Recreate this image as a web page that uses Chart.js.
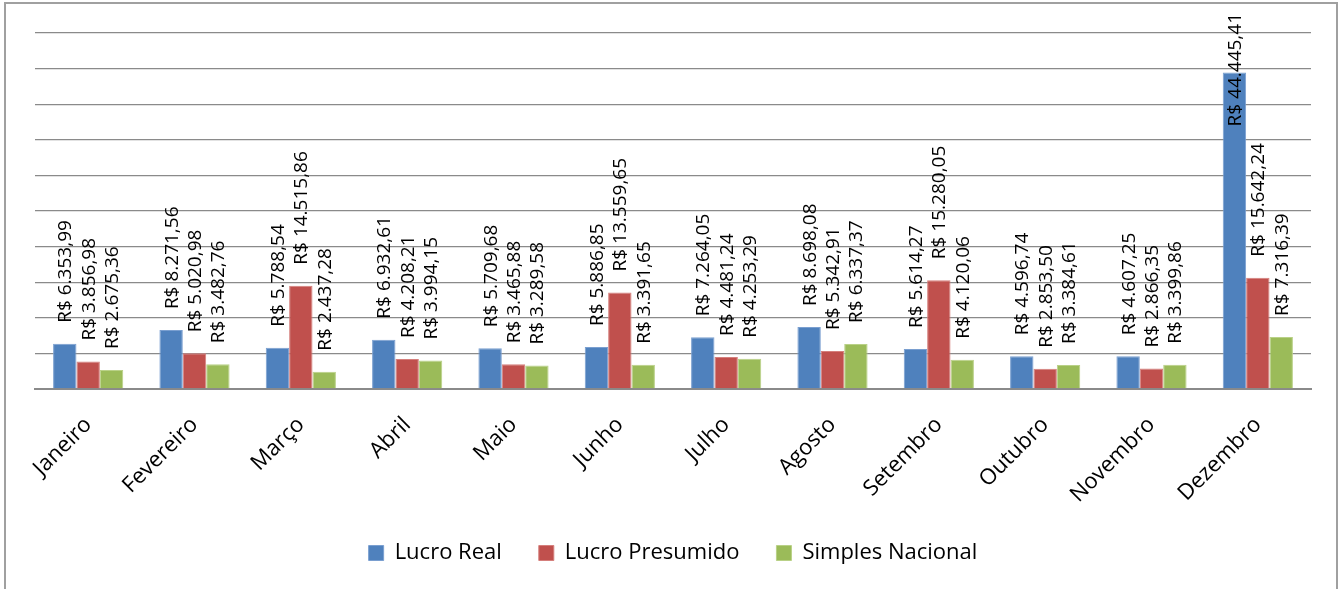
<!DOCTYPE html>
<html>
<head>
<meta charset="utf-8">
<script src="https://cdn.jsdelivr.net/npm/chart.js@4.4.1/dist/chart.umd.min.js"></script>
<style>
  html, body { margin: 0; padding: 0; background: #ffffff; }
  #frame { position: absolute; left: 4px; top: 2px; width: 1334px; height: 640px; border: 2px solid #A0A0A0; box-sizing: border-box; }
  #c { position: absolute; left: 0; top: 0; }
</style>
</head>
<body>
<div id="frame"></div>
<canvas id="c" width="1344" height="589"></canvas>
<script>
const months = ['Janeiro','Fevereiro','Março','Abril','Maio','Junho','Julho','Agosto','Setembro','Outubro','Novembro','Dezembro'];
const seriesNames = ['Lucro Real','Lucro Presumido','Simples Nacional'];
const lucroReal = [6353.99, 8271.56, 5788.54, 6932.61, 5709.68, 5886.85, 7264.05, 8698.08, 5614.27, 4596.74, 4607.25, 44445.41];
const lucroPresumido = [3856.98, 5020.98, 14515.86, 4208.21, 3465.88, 13559.65, 4481.24, 5342.91, 15280.05, 2853.50, 2866.35, 15642.24];
const simplesNacional = [2675.36, 3482.76, 2437.28, 3994.15, 3289.58, 3391.65, 4253.29, 6337.37, 4120.06, 3384.61, 3399.86, 7316.39];
const yMin = 0, yMax = 50000, yStep = 5000;

const FONT = "'Open Sans', 'Noto Sans', sans-serif";
const PLOT_BOTTOM = 389;
const PAD_BOTTOM = 15;

function brl(v) {
  const parts = v.toFixed(2).split('.');
  const intPart = parts[0].replace(/\B(?=(\d{3})+(?!\d))/g, '.');
  return 'R$ ' + intPart + ',' + parts[1];
}

const valueLabels = {
  id: 'valueLabels',
  afterDatasetsDraw(chart) {
    const ctx = chart.ctx;
    ctx.save();
    ctx.font = "19px " + FONT;
    ctx.fillStyle = '#000000';
    ctx.textAlign = 'left';
    ctx.textBaseline = 'middle';
    chart.data.datasets.forEach((ds, di) => {
      const meta = chart.getDatasetMeta(di);
      meta.data.forEach((bar, i) => {
        const txt = brl(ds.data[i]);
        const w = ctx.measureText(txt).width;
        let start = bar.y - 21;
        if (start - w < 13) start = 13 + w;
        ctx.save();
        ctx.translate(bar.x + 1, start);
        ctx.rotate(-Math.PI / 2);
        ctx.fillText(txt, 0, 0);
        ctx.restore();
      });
    });
    ctx.restore();
  }
};

new Chart(document.getElementById('c'), {
  type: 'bar',
  data: {
    labels: months,
    datasets: [
      { label: seriesNames[0], data: lucroReal, backgroundColor: '#4F81BD', borderColor: '#7A9FD0', borderWidth: 1 },
      { label: seriesNames[1], data: lucroPresumido, backgroundColor: '#C0504D', borderColor: '#D57F7C', borderWidth: 1 },
      { label: seriesNames[2], data: simplesNacional, backgroundColor: '#9BBB59', borderColor: '#B9D187', borderWidth: 1 }
    ]
  },
  options: {
    responsive: false,
    animation: false,
    layout: { padding: { left: 35, right: 33, top: 33, bottom: PAD_BOTTOM } },
    datasets: { bar: { categoryPercentage: 0.66, barPercentage: 1.0 } },
    scales: {
      y: {
        min: yMin, max: yMax,
        ticks: { display: false, stepSize: yStep },
        grid: { color: '#8A8A8A', lineWidth: 1.3, drawTicks: false },
        border: { display: false },
        afterFit(s) { s.width = 0; }
      },
      x: {
        grid: { display: false, drawTicks: false },
        border: { display: true, color: '#8A8A8A', width: 2 },
        ticks: {
          color: '#000000',
          font: { family: FONT, size: 22 },
          maxRotation: 45, minRotation: 45,
          padding: 23,
          autoSkip: false
        },
        afterFit(s) {
          const lh = (s.chart.legend && s.chart.legend.height) ? s.chart.legend.height : 60;
          s.height = 589 - PLOT_BOTTOM - lh - PAD_BOTTOM;
        }
      }
    },
    plugins: {
      legend: {
        position: 'bottom',
        labels: {
          color: '#000000',
          font: { family: FONT, size: 22 },
          boxWidth: 15, boxHeight: 15,
          padding: 37
        }
      },
      tooltip: { enabled: false }
    }
  },
  plugins: [valueLabels]
});
</script>
</body>
</html>
